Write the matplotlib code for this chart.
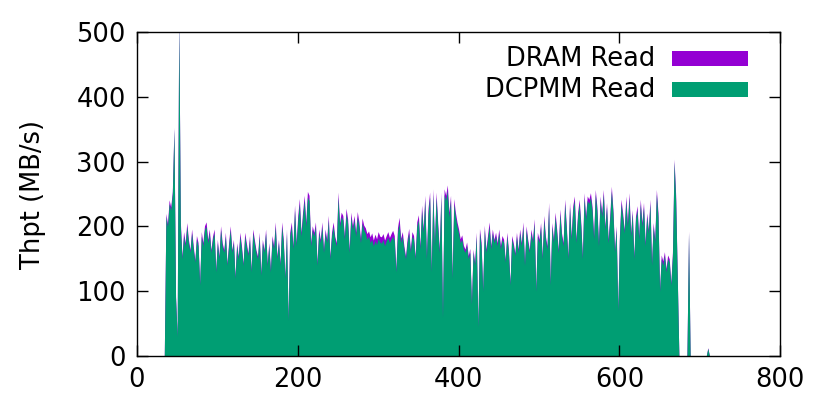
import matplotlib
matplotlib.use("Agg")
import matplotlib.pyplot as plt
import numpy as np

# sampling time (s), one point every 2 s
time_s = np.arange(30, 722, 2)

# DCPMM read throughput (MB/s)
dcpmm_read = [
    0, 0, 0, 215, 200, 235, 225, 250, 350, 90,
    30, 520, 200, 150, 185, 170, 200, 175, 160, 190,
    165, 145, 180, 170, 110, 185, 170, 195, 200, 175,
    190, 160, 180, 190, 130, 175, 150, 195, 170, 160,
    185, 140, 170, 195, 160, 175, 120, 170, 150, 185,
    165, 140, 185, 170, 155, 180, 130, 190, 175, 160,
    150, 185, 125, 175, 160, 190, 140, 170, 130, 180,
    165, 200, 150, 175, 140, 200, 175, 120, 190, 55,
    185, 200, 165, 225, 170, 210, 235, 185, 215, 240,
    200, 245, 240, 170, 195, 185, 200, 140, 190, 175,
    200, 160, 190, 175, 210, 150, 185, 200, 180, 170,
    245, 200, 215, 210, 180, 220, 205, 160, 215, 195,
    210, 185, 215, 200, 175, 205, 195, 190, 180, 185,
    175, 180, 170, 178, 172, 182, 176, 174, 180, 170,
    178, 183, 175, 180, 185, 178, 130, 190, 205, 175,
    185, 165, 150, 175, 190, 160, 185, 180, 150, 200,
    210, 165, 225, 190, 240, 150, 220, 245, 130, 250,
    170, 245, 200, 160, 245, 60, 250, 240, 255, 215,
    240, 120, 235, 215, 200, 190, 175, 180, 165, 160,
    170, 150, 160, 80, 160, 140, 185, 45, 190, 170,
    100, 195, 160, 180, 200, 165, 190, 175, 185, 170,
    190, 165, 180, 175, 145, 185, 160, 110, 180, 170,
    155, 185, 160, 190, 170, 200, 140, 195, 175, 160,
    190, 175, 205, 100, 185, 175, 200, 150, 210, 180,
    165, 230, 110, 200, 175, 215, 190, 160, 220, 185,
    170, 235, 195, 150, 230, 180, 225, 240, 175, 215,
    235, 200, 150, 245, 210, 240, 235, 245, 225, 180,
    250, 225, 170, 240, 215, 250, 195, 230, 175, 210,
    255, 220, 160, 195, 70, 180, 235, 215, 190, 240,
    200, 245, 185, 220, 150, 210, 225, 180, 235, 200,
    230, 170, 215, 190, 235, 140, 200, 175, 250, 215,
    100, 150, 140, 155, 130, 150, 145, 110, 155, 300,
    240, 120, 0, 0, 0, 0, 0, 0, 190, 0,
    0, 0, 0, 0, 0, 0, 0, 0, 0, 0,
    12, 0, 0, 0, 0, 0,
]

# DRAM read throughput (MB/s), stacked on top
dram_read = [
    0, 0, 0, 5, 4, 6, 5, 4, 3, 2,
    1, 2, 6, 4, 7, 5, 6, 5, 4, 6,
    5, 3, 6, 5, 2, 7, 5, 6, 7, 5,
    6, 4, 5, 6, 3, 5, 4, 6, 5, 4,
    6, 3, 5, 6, 4, 5, 3, 5, 4, 6,
    5, 3, 6, 5, 4, 6, 3, 6, 5, 4,
    4, 6, 3, 5, 4, 6, 3, 5, 3, 6,
    5, 7, 4, 5, 3, 7, 5, 3, 6, 1,
    6, 7, 5, 8, 5, 7, 8, 6, 7, 8,
    6, 9, 8, 5, 6, 6, 7, 4, 6, 5,
    7, 4, 6, 5, 7, 4, 6, 7, 5, 5,
    8, 6, 7, 7, 5, 8, 7, 4, 7, 6,
    7, 6, 8, 7, 6, 8, 7, 8, 9, 8,
    9, 10, 9, 10, 9, 10, 9, 10, 9, 9,
    8, 9, 8, 9, 9, 8, 4, 8, 9, 7,
    7, 5, 4, 6, 7, 5, 7, 6, 4, 7,
    8, 5, 8, 7, 8, 4, 8, 8, 3, 8,
    5, 8, 7, 5, 8, 1, 8, 8, 9, 7,
    8, 3, 8, 7, 7, 6, 6, 7, 6, 5,
    6, 5, 6, 2, 5, 4, 6, 1, 7, 6,
    3, 7, 5, 6, 7, 5, 6, 5, 6, 5,
    6, 5, 6, 5, 4, 6, 5, 3, 6, 5,
    4, 6, 5, 6, 5, 7, 4, 6, 5, 4,
    6, 5, 7, 3, 6, 5, 6, 4, 7, 5,
    5, 7, 3, 6, 5, 7, 6, 4, 7, 5,
    5, 7, 6, 4, 7, 5, 7, 7, 5, 6,
    7, 6, 4, 7, 6, 7, 7, 7, 6, 5,
    7, 6, 5, 7, 6, 7, 5, 7, 5, 6,
    7, 6, 4, 6, 2, 5, 7, 6, 5, 7,
    6, 7, 5, 6, 4, 6, 7, 5, 7, 6,
    7, 5, 6, 5, 7, 4, 6, 5, 7, 6,
    3, 6, 7, 6, 5, 6, 5, 3, 6, 4,
    8, 3, 0, 0, 0, 0, 0, 0, 3, 0,
    0, 0, 0, 0, 0, 0, 0, 0, 0, 0,
    1, 0, 0, 0, 0, 0,
]

DRAM_COLOR = "#9400d3"
DCPMM_COLOR = "#009e73"
FS = 18.5

plt.rcParams["font.family"] = ["DejaVu Sans"]
plt.rcParams["font.size"] = FS

fig = plt.figure(figsize=(8.3, 4.15), dpi=100)
ax = fig.add_axes([0.165, 0.142, 0.775, 0.781])

green = np.array(dcpmm_read, dtype=float)
total = green + np.array(dram_read, dtype=float)

ax.fill_between(time_s, 0, total, color=DRAM_COLOR, linewidth=0)
ax.fill_between(time_s, 0, green, color=DCPMM_COLOR, linewidth=0)

ax.set_xlim(0, 800)
ax.set_ylim(0, 500)
ax.set_xticks([0, 200, 400, 600, 800])
ax.set_yticks([0, 100, 200, 300, 400, 500])
ax.tick_params(direction="in", length=8, width=1, top=True, right=True,
               labelsize=FS, pad=8)
for s in ax.spines.values():
    s.set_linewidth(1)
ax.set_ylabel("Thpt (MB/s)", fontsize=FS, labelpad=22)

# gnuplot-style legend: right-aligned text, sample bar on the right
legend_rows = [("DRAM Read", DRAM_COLOR, 0.918), ("DCPMM Read", DCPMM_COLOR, 0.822)]
for label, color, yc in legend_rows:
    ax.text(0.806, yc, label, transform=ax.transAxes, ha="right", va="center",
            fontsize=FS)
    ax.add_patch(plt.Rectangle((0.832, yc - 0.023), 0.118, 0.046,
                               transform=ax.transAxes, color=color, lw=0))

fig.savefig("out.png", dpi=100)
